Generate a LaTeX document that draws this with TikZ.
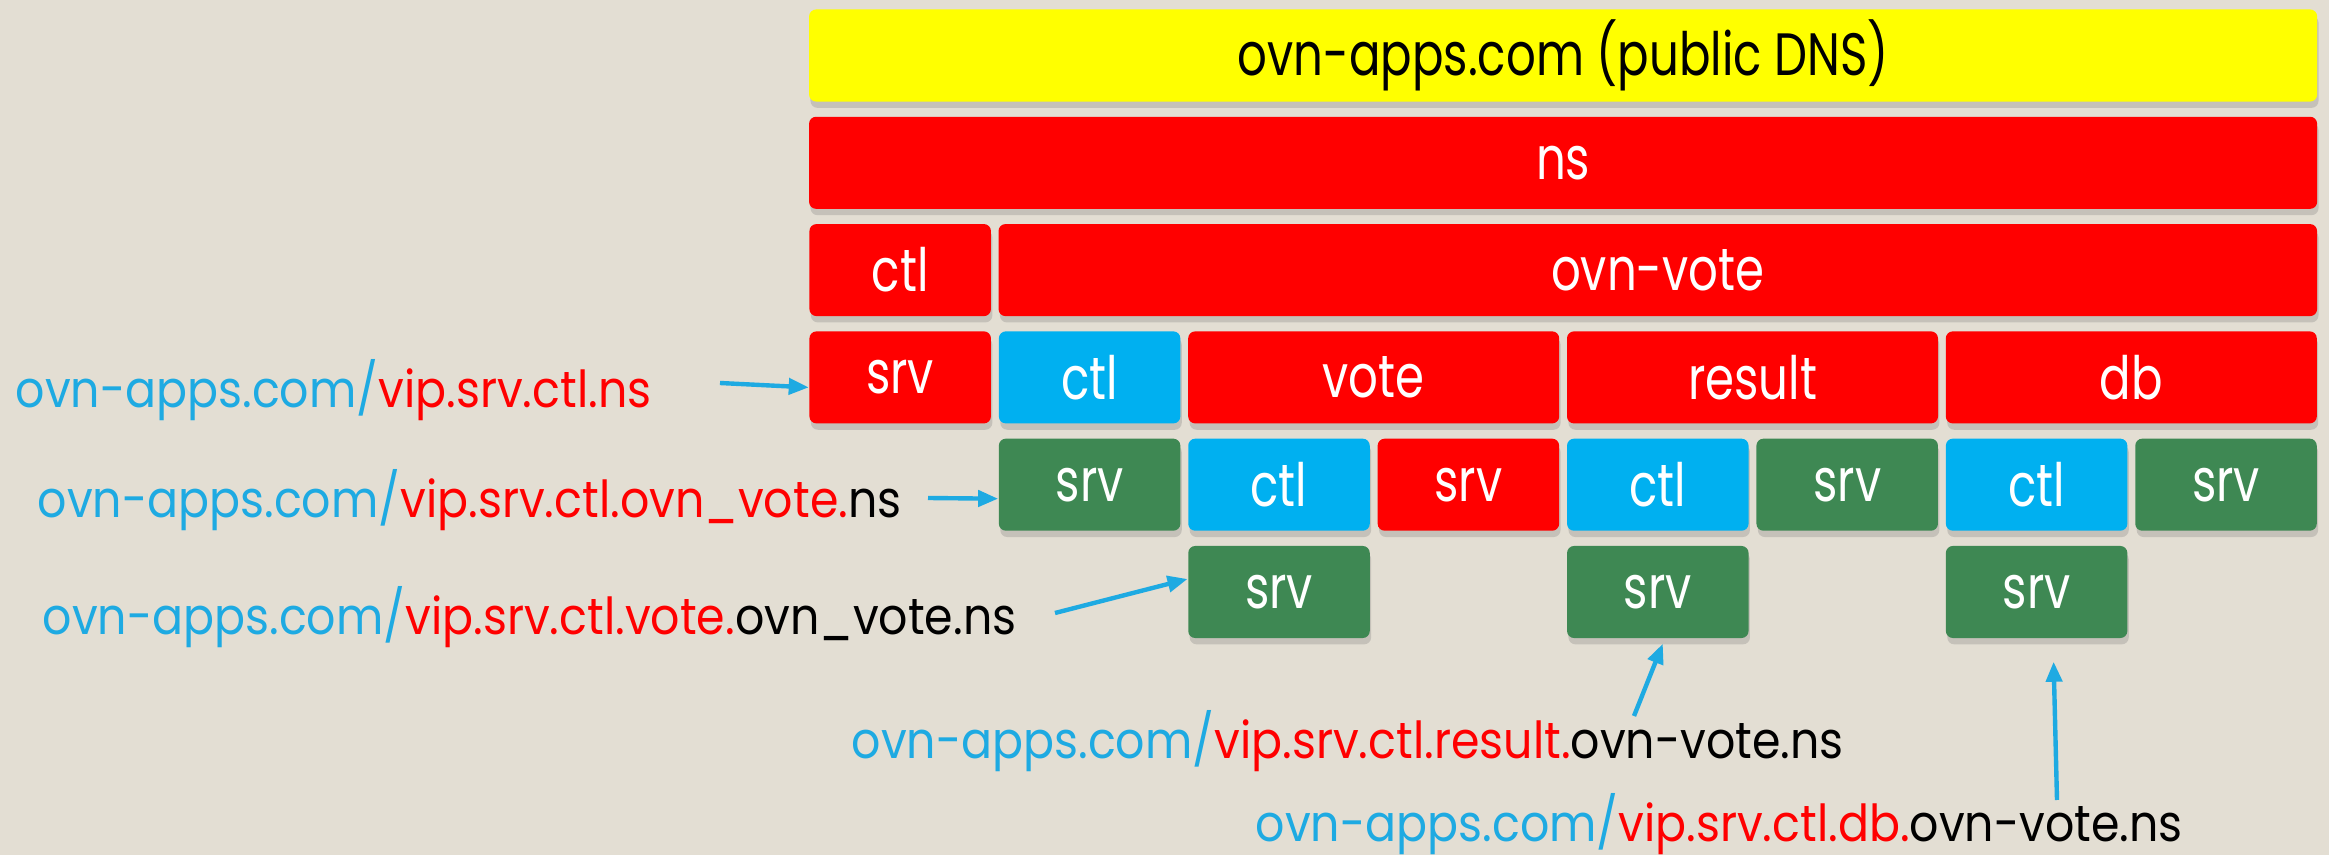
\documentclass[tikz,border=0pt]{standalone}
\usepackage{fontspec}
\setmainfont{Poppins}
\newfontfamily\cellfont[FakeStretch=0.78]{Poppins}
\newfontfamily\urlfont[FakeStretch=0.9]{Poppins}
\usetikzlibrary{arrows.meta,shadows}

\definecolor{bgbeige}{HTML}{E3DED3}
\definecolor{nsred}{HTML}{FF0000}
\definecolor{ctlblue}{HTML}{00B0F0}
\definecolor{srvgreen}{HTML}{3E8853}
\definecolor{dnsyellow}{HTML}{FFFF00}
\definecolor{urlblue}{HTML}{1EAAE2}

\tikzset{
cell/.style={
	rounded corners=0.07cm, minimum width=1.814cm, minimum height=0.92cm,
	inner sep=0pt, text=white, font=\cellfont\fontsize{17}{19}\selectfont,
	drop shadow={shadow xshift=0.4pt, shadow yshift=-1.8pt, opacity=0.3}},
redcell/.style={cell, fill=nsred},
ctlcell/.style={cell, fill=ctlblue},
srvcell/.style={cell, fill=srvgreen},
url/.style={font=\urlfont\fontsize{14.5}{16}\selectfont, inner sep=0pt, anchor=west},
ptr/.style={urlblue, line width=1.25pt, -{Triangle[length=0.2cm, width=0.16cm]}}
}
\newcommand{\urlhost}{\textcolor{urlblue}{ovn-apps.com/}}
\newcommand{\viprec}[1]{\textcolor{nsred}{#1}}

\begin{document}
\begin{tikzpicture}[x=0.01cm, y=-0.01cm]
	\useasboundingbox (0,0) rectangle (2329,855);
	\fill[bgbeige] (0,0) rectangle (2329,855);

	% zone and namespace
	\node[cell, fill=dnsyellow, text=black, minimum width=15.072cm] (dns) at (1563.1,55.5) {ovn-apps.com (public DNS)};
	\node[redcell, minimum width=15.072cm] (ns) at (1563.1,162.8) {ns};
	\node[redcell] (ctl) at (900.2,270.1) {ctl};
	\node[redcell, minimum width=13.178cm] (ovnvote) at (1657.8,270.1) {ovn-vote};

	% services of ovn-vote
	\node[redcell] (srv) at (900.2,377.4) {srv};
	\node[ctlcell] (ovnctl) at (1089.6,377.4) {ctl};
	\node[redcell, minimum width=3.708cm] (vote) at (1373.7,377.4) {vote};
	\node[redcell, minimum width=3.708cm] (result) at (1752.5,377.4) {result};
	\node[redcell, minimum width=3.708cm] (db) at (2131.3,377.4) {db};

	\node[srvcell] (ovnsrv) at (1089.6,484.7) {srv};
	\node[ctlcell] (votectl) at (1279,484.7) {ctl};
	\node[redcell] (votesrv) at (1468.4,484.7) {srv};
	\node[ctlcell] (resultctl) at (1657.8,484.7) {ctl};
	\node[srvcell] (resultsrv) at (1847.2,484.7) {srv};
	\node[ctlcell] (dbctl) at (2036.6,484.7) {ctl};
	\node[srvcell] (dbsrv) at (2226,484.7) {srv};

	\node[srvcell] (votevip) at (1279,592) {srv};
	\node[srvcell] (resultvip) at (1657.8,592) {srv};
	\node[srvcell] (dbvip) at (2036.6,592) {srv};

	% record names
	\node[url] (nsurl) at (15,390) {\urlhost\viprec{vip.srv.ctl.ns}};
	\node[url] (ovnurl) at (37,500) {\urlhost\viprec{vip.srv.ctl.ovn\_vote.}ns};
	\node[url] (voteurl) at (42,617) {\urlhost\viprec{vip.srv.ctl.vote.}ovn\_vote.ns};
	\node[url] (resulturl) at (851,741) {\urlhost\viprec{vip.srv.ctl.result.}ovn-vote.ns};
	\node[url] (dburl) at (1255,824) {\urlhost\viprec{vip.srv.ctl.db.}ovn-vote.ns};

	\coordinate (nstail) at (720,383);
	\coordinate (ovntail) at (928,498);
	\coordinate (votetail) at (1055,613);
	\coordinate (resulttail) at (1634,716);
	\coordinate (dbtail) at (2057,800);

	\draw[ptr] (nstail) -- ([yshift=-0.1cm]srv.west);
	\draw[ptr] (ovntail) -- ([yshift=-0.14cm]ovnsrv.west);
	\draw[ptr] (votetail) -- ([yshift=0.13cm]votevip.west);
	\draw[ptr] (resulttail) -- ([xshift=0.05cm,yshift=-0.05cm]resultvip.south);
	\draw[ptr] (dbtail) -- ([xshift=0.17cm,yshift=-0.23cm]dbvip.south);
\end{tikzpicture}
\end{document}
